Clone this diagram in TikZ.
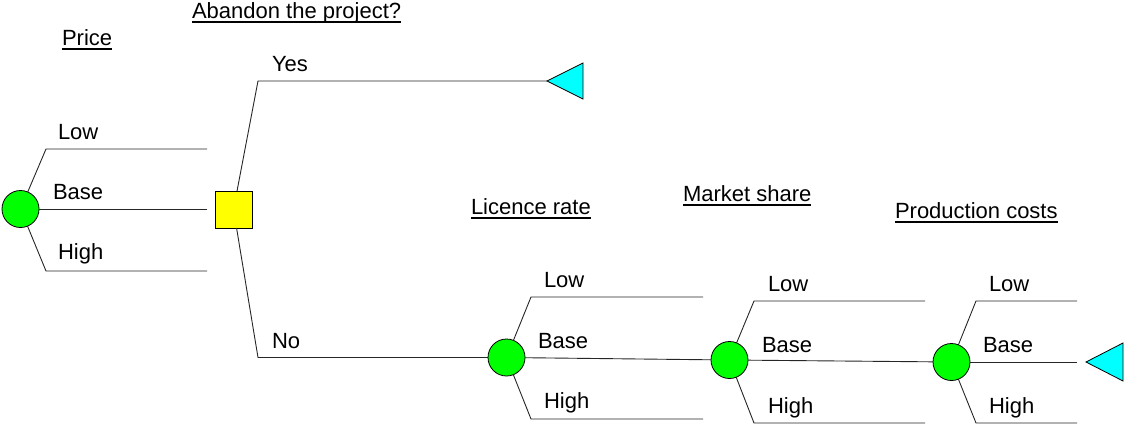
\documentclass[tikz,border=0pt]{standalone}
\usepackage{fontspec}
\setmainfont{Liberation Sans}
\definecolor{chancegreen}{RGB}{0,255,0}
\definecolor{decyellow}{RGB}{255,255,0}
\definecolor{termcyan}{RGB}{0,255,255}
\begin{document}
\begin{tikzpicture}[x=1pt,y=-1pt,
  every node/.style={font=\fontsize{22}{26}\selectfont, inner sep=0pt, outer sep=0pt},
  chance/.style={circle, draw, fill=chancegreen, minimum size=37pt, line width=0.8pt},
  decision/.style={rectangle, draw, fill=decyellow, minimum size=37pt, line width=0.8pt},
  lbl/.style={anchor=base west},
  head/.style={anchor=base west},
  branch/.style={line width=0.9pt, draw=black!85},
  term/.style={draw, fill=termcyan, line width=0.8pt, line join=miter},
  uline/.style={line width=1.7pt}]
\useasboundingbox (0,0) rectangle (1127,429);

% headings
\node[head] (hprice) at (62,45) {Price};
\node[head] (hab) at (192,18) {Abandon the project?};
\node[head] (hlic) at (471,214) {Licence rate};
\node[head] (hmkt) at (683,201) {Market share};
\node[head] (hprod) at (895,218) {Production costs};
\foreach \h in {hprice,hab,hlic,hmkt,hprod}
  \draw[uline] ([yshift=-3.8pt]\h.base west) -- ([yshift=-3.8pt]\h.base east);

% coordinates of branch bends and ends
\coordinate (c1l) at (46,149);  \coordinate (c1le) at (207,149);
\coordinate (c1be) at (207,209);
\coordinate (c1h) at (46,271);  \coordinate (c1he) at (207,271);
\coordinate (dy) at (258,81);   \coordinate (t1) at (547,81);
\coordinate (dn) at (258,357.5);
\coordinate (c2l) at (531,297); \coordinate (c2le) at (703,297);
\coordinate (c2h) at (531,419); \coordinate (c2he) at (703,419);
\coordinate (c3l) at (754,301); \coordinate (c3le) at (925,301);
\coordinate (c3h) at (754,423); \coordinate (c3he) at (925,423);
\coordinate (c4l) at (976,301); \coordinate (c4le) at (1077,301);
\coordinate (c4h) at (976,423); \coordinate (c4he) at (1077,423);
\coordinate (c4be) at (1077,362);
\coordinate (t2) at (1086,362);

% nodes
\node[chance] (c1) at (20.5,209) {};
\node[decision] (d) at (233.5,209.5) {};
\node[chance] (c2) at (506.5,357.5) {};
\node[chance] (c3) at (729.5,360) {};
\node[chance] (c4) at (951.5,362) {};

% branches
\draw[branch] (c1) -- (c1l) -- (c1le);
\draw[branch] (c1) -- (c1be);
\draw[branch] (c1) -- (c1h) -- (c1he);
\draw[branch] (d) -- (dy) -- (t1);
\draw[branch] (d) -- (dn) -- (c2);
\draw[branch] (c2) -- (c2l) -- (c2le);
\draw[branch] (c2) -- (c3);
\draw[branch] (c2) -- (c2h) -- (c2he);
\draw[branch] (c3) -- (c3l) -- (c3le);
\draw[branch] (c3) -- (c4);
\draw[branch] (c3) -- (c3h) -- (c3he);
\draw[branch] (c4) -- (c4l) -- (c4le);
\draw[branch] (c4) -- (c4be);
\draw[branch] (c4) -- (c4h) -- (c4he);

% terminal triangles
\draw[term] (t1) -- (583,63) -- (583,99) -- cycle;
\draw[term] (t2) -- (1123,343) -- (1123,381) -- cycle;

% branch labels
\node[lbl] (l1a) at (58,139) {Low};
\node[lbl] (l1b) at (53,199) {Base};
\node[lbl] (l1c) at (58,259) {High};
\node[lbl] (lyes) at (272,71) {Yes};
\node[lbl] (lno) at (272,348) {No};
\node[lbl] (l2a) at (544,287) {Low};
\node[lbl] (l2b) at (538,348) {Base};
\node[lbl] (l2c) at (544,408) {High};
\node[lbl] (l3a) at (768,291) {Low};
\node[lbl] (l3b) at (762,352) {Base};
\node[lbl] (l3c) at (768,413) {High};
\node[lbl] (l4a) at (989,291) {Low};
\node[lbl] (l4b) at (983,352) {Base};
\node[lbl] (l4c) at (989,413) {High};
\end{tikzpicture}
\end{document}
